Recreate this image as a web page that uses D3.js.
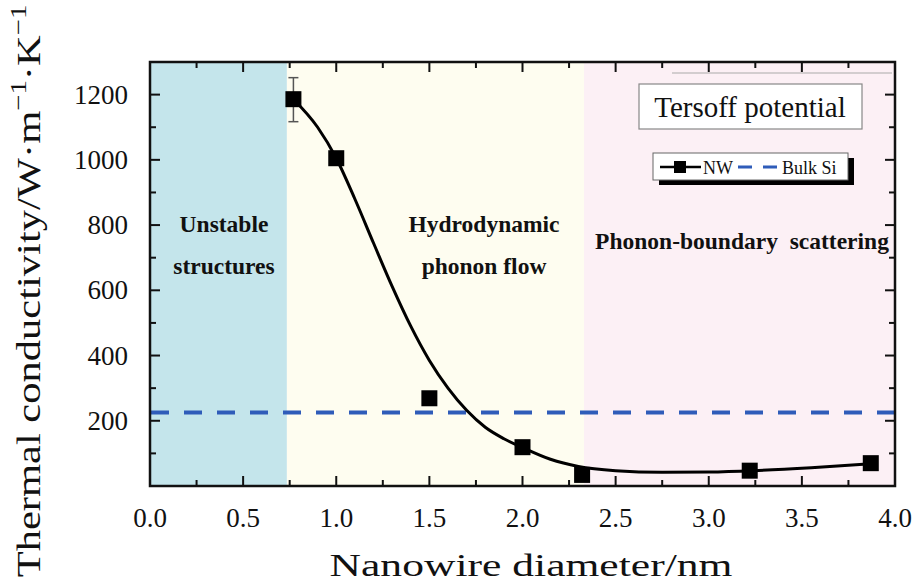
<!DOCTYPE html>
<html>
<head>
<meta charset="utf-8">
<style>
  html, body { margin: 0; padding: 0; background: #fff; }
  svg { display: block; }
</style>
</head>
<body>
<script src="https://d3js.org/d3.v7.min.js"></script>
<script>
// ---- data ----
var diameters = [0.77, 1.0, 1.5, 2.0, 2.32, 3.22, 3.87];
var conductivity = [1186, 1005, 269, 119, 34, 47, 70];

var errX = [0.77];
var errLow = [1117];
var errHigh = [1252];

// fitted curve
var fitX = [0.77, 0.9, 1.0, 1.1, 1.2, 1.3, 1.4, 1.5, 1.6, 1.7, 1.8, 1.9, 2.0, 2.15, 2.3, 2.5, 2.75, 3.0, 3.24, 3.55, 3.87];
var fitY = [1186, 1100, 1005, 880, 745, 612, 490, 385, 300, 232, 180, 145, 118, 82, 60, 47, 42, 43, 47, 56, 68];

var bulkSi = [225];

var regionStart = [0, 0.735, 2.33];
var regionEnd = [0.735, 2.33, 4.0];
var regionColors = ["#c4e5eb", "#fefdf0", "#fcf0f5"];
var regionLines = [["Unstable", "structures"], ["Hydrodynamic", "phonon flow"], ["Phonon-boundary\u00a0\u00a0scattering"]];

var xTickLabels = [0, 0.5, 1.0, 1.5, 2.0, 2.5, 3.0, 3.5, 4.0];
var yTickLabels = [200, 400, 600, 800, 1000, 1200];

// ---- layout ----
var W = 920, H = 585;
var pL = 150, pR = 895, pT = 62, pB = 486;

var svg = d3.select("body").append("svg")
  .attr("width", W)
  .attr("height", H);

var x = d3.scaleLinear().domain([0, 4]).range([pL, pR]);
var y = d3.scaleLinear().domain([0, 1300]).range([pB, pT]);

var serif = "'Liberation Serif', 'Times New Roman', serif";

// background regions
svg.selectAll("rect.region")
  .data(regionStart)
  .enter().append("rect")
    .attr("class", "region")
    .attr("x", function(d) { return x(d); })
    .attr("y", pT)
    .attr("width", function(d, i) { return x(regionEnd[i]) - x(d); })
    .attr("height", pB - pT)
    .attr("fill", function(d, i) { return regionColors[i]; });

// region labels
var labelY = [[232, 274], [232, 274], [249]];
var labelX = [224, 484, 742];
regionLines.forEach(function(lines, i) {
  lines.forEach(function(t, j) {
    svg.append("text")
      .attr("x", labelX[i])
      .attr("y", labelY[i][j])
      .attr("text-anchor", "middle")
      .attr("font-family", serif)
      .attr("font-weight", 700)
      .attr("font-size", "23.5px")
      .attr("fill", "#111")
      .text(t);
  });
});

// faint stray line at top right
svg.append("line")
  .attr("x1", 672).attr("x2", 892)
  .attr("y1", 73).attr("y2", 73)
  .attr("stroke", "#aaa").attr("stroke-width", 1.2);

// axes with inward ticks on all four sides
var xMajor = d3.range(0, 4.001, 0.5);
var xMinor = d3.range(0.25, 4, 0.5);
var yMajor = d3.range(0, 1201, 200);
var yMinor = d3.range(100, 1300, 200);

function xTickGroup(vals, len) {
  var g = svg.append("g").attr("stroke", "#111").attr("stroke-width", 2);
  vals.forEach(function(v) {
    g.append("line").attr("x1", x(v)).attr("x2", x(v)).attr("y1", pB).attr("y2", pB - len);
    g.append("line").attr("x1", x(v)).attr("x2", x(v)).attr("y1", pT).attr("y2", pT + len);
  });
}
xTickGroup(xMajor, 10);
xTickGroup(xMinor, 6);

function yTickGroup(vals, len) {
  var g = svg.append("g").attr("stroke", "#111").attr("stroke-width", 2);
  vals.forEach(function(v) {
    g.append("line").attr("y1", y(v)).attr("y2", y(v)).attr("x1", pL).attr("x2", pL + len);
    g.append("line").attr("y1", y(v)).attr("y2", y(v)).attr("x1", pR).attr("x2", pR - len);
  });
}
yTickGroup(yMajor, 10);
yTickGroup(yMinor, 6);

// tick labels
svg.selectAll("text.xtick")
  .data(xTickLabels)
  .enter().append("text")
    .attr("class", "xtick")
    .attr("x", function(d) { return x(d); })
    .attr("y", 527)
    .attr("text-anchor", "middle")
    .attr("font-family", serif)
    .attr("font-size", "27px")
    .attr("fill", "#111")
    .text(function(d) { return d3.format(".1f")(d); });

svg.selectAll("text.ytick")
  .data(yTickLabels)
  .enter().append("text")
    .attr("class", "ytick")
    .attr("x", 128)
    .attr("y", function(d) { return y(d) + 9; })
    .attr("text-anchor", "end")
    .attr("font-family", serif)
    .attr("font-size", "27px")
    .attr("fill", "#111")
    .text(function(d) { return d; });

// bulk Si dashed line
svg.selectAll("line.bulk")
  .data(bulkSi)
  .enter().append("line")
    .attr("class", "bulk")
    .attr("x1", pL + 1).attr("x2", pR - 1)
    .attr("y1", function(d) { return y(d); })
    .attr("y2", function(d) { return y(d); })
    .attr("stroke", "#2f5cb9")
    .attr("stroke-width", 4)
    .attr("stroke-dasharray", "18,15");

// fitted curve
var fitPts = fitX.map(function(d, i) { return [d, fitY[i]]; });
var line = d3.line()
  .x(function(d) { return x(d[0]); })
  .y(function(d) { return y(d[1]); })
  .curve(d3.curveMonotoneX);

svg.append("path")
  .datum(fitPts)
  .attr("d", line)
  .attr("fill", "none")
  .attr("stroke", "#000")
  .attr("stroke-width", 3);

// error bar
errX.forEach(function(d, i) {
  var g = svg.append("g").attr("stroke", "#555").attr("stroke-width", 1.5);
  g.append("line").attr("x1", x(d)).attr("x2", x(d)).attr("y1", y(errLow[i])).attr("y2", y(errHigh[i]));
  g.append("line").attr("x1", x(d) - 5).attr("x2", x(d) + 5).attr("y1", y(errLow[i])).attr("y2", y(errLow[i]));
  g.append("line").attr("x1", x(d) - 5).attr("x2", x(d) + 5).attr("y1", y(errHigh[i])).attr("y2", y(errHigh[i]));
});

// squares
var sq = 16;
svg.selectAll("rect.pt")
  .data(diameters)
  .enter().append("rect")
    .attr("class", "pt")
    .attr("x", function(d) { return x(d) - sq / 2; })
    .attr("y", function(d, i) { return y(conductivity[i]) - sq / 2; })
    .attr("width", sq)
    .attr("height", sq)
    .attr("fill", "#000");

// frame
svg.append("rect")
  .attr("x", pL).attr("y", pT)
  .attr("width", pR - pL).attr("height", pB - pT)
  .attr("fill", "none")
  .attr("stroke", "#111")
  .attr("stroke-width", 2.5);

// "Tersoff potential" box
svg.append("rect")
  .attr("x", 639).attr("y", 84)
  .attr("width", 223).attr("height", 45)
  .attr("fill", "#fff")
  .attr("stroke", "#888").attr("stroke-width", 1.2);
svg.append("text")
  .attr("x", 750).attr("y", 117)
  .attr("text-anchor", "middle")
  .attr("font-family", serif)
  .attr("font-size", "29px")
  .attr("fill", "#111")
  .text("Tersoff potential");

// legend with shadow
svg.append("rect")
  .attr("x", 659).attr("y", 158)
  .attr("width", 195).attr("height", 27)
  .attr("fill", "#000");
svg.append("rect")
  .attr("x", 653).attr("y", 153)
  .attr("width", 195).attr("height", 27)
  .attr("fill", "#fff")
  .attr("stroke", "#666").attr("stroke-width", 1);
svg.append("line")
  .attr("x1", 660).attr("x2", 701).attr("y1", 167).attr("y2", 167)
  .attr("stroke", "#000").attr("stroke-width", 2.5);
svg.append("rect")
  .attr("x", 674).attr("y", 161).attr("width", 12).attr("height", 12)
  .attr("fill", "#000");
svg.append("text")
  .attr("x", 703).attr("y", 174)
  .attr("font-family", serif).attr("font-size", "18px").attr("fill", "#111")
  .text("NW");
svg.append("line")
  .attr("x1", 738).attr("x2", 778).attr("y1", 167).attr("y2", 167)
  .attr("stroke", "#2f5cb9").attr("stroke-width", 3)
  .attr("stroke-dasharray", "14,11");
svg.append("text")
  .attr("x", 782).attr("y", 174)
  .attr("font-family", serif).attr("font-size", "18px").attr("fill", "#111")
  .text("Bulk Si");

// axis titles, stretched to the widths in the picture
var xTitle = svg.append("text")
  .attr("text-anchor", "middle")
  .attr("font-family", serif)
  .attr("font-size", "32px")
  .attr("fill", "#111")
  .text("Nanowire diameter/nm");
var xs = 403 / xTitle.node().getComputedTextLength();
xTitle.attr("transform", "translate(531,576) scale(" + xs + ",1)");

var yTitle = svg.append("text")
  .attr("text-anchor", "middle")
  .attr("font-family", serif)
  .attr("font-size", "34px")
  .attr("fill", "#111");
yTitle.append("tspan").text("Thermal conductivity/W\u00b7m");
yTitle.append("tspan").attr("font-size", "23px").attr("dy", -14).text("\u22121");
yTitle.append("tspan").attr("dy", 14).text("\u00b7K");
yTitle.append("tspan").attr("font-size", "23px").attr("dy", -14).text("\u22121");
var ys = 573 / yTitle.node().getComputedTextLength();
yTitle.attr("transform", "translate(40,291) rotate(-90) scale(" + ys + ",1)");
</script>
</body>
</html>
